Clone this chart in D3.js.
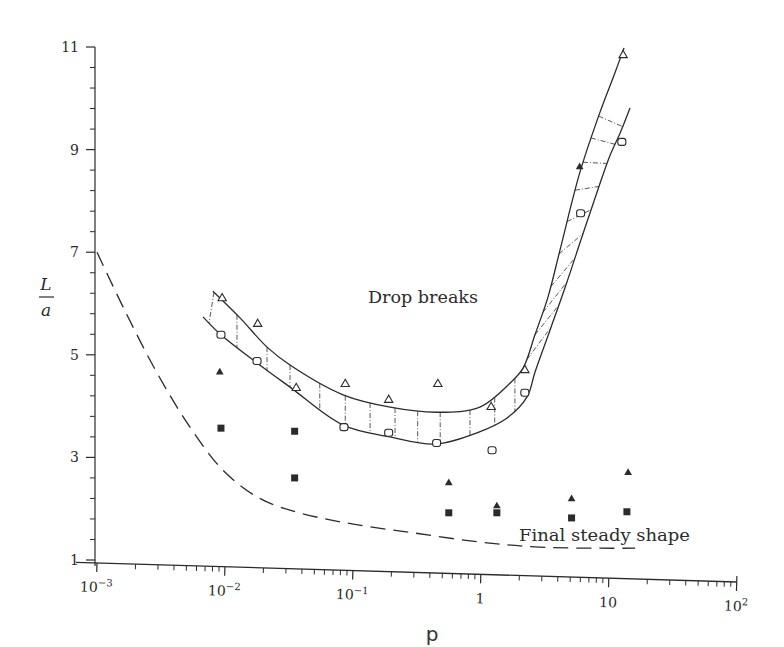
<!DOCTYPE html>
<html><head><meta charset="utf-8">
<script src="https://cdn.jsdelivr.net/npm/d3@7/dist/d3.min.js"></script>
<style>html,body{margin:0;padding:0;background:#fff;}svg{display:block;}</style>
</head><body>
<svg id="c" width="784" height="647"></svg>
<script>
// ---- data: [p, L/a] ----
const openTriangles   = [[0.0095,6.1],[0.018,5.6],[0.036,4.35],[0.087,4.43],[0.19,4.12],[0.46,4.43],[1.2,3.98],[2.2,4.7],[12.9,10.84]];
const filledTriangles = [[0.0091,4.66],[0.56,2.5],[1.33,2.05],[5.1,2.19],[14.1,2.7],[5.9,8.66]];
const openSquares     = [[0.0093,5.39],[0.0178,4.88],[0.085,3.59],[0.19,3.48],[0.45,3.28],[1.22,3.14],[2.2,4.26],[6.0,7.76],[12.6,9.15]];
const filledSquares   = [[0.0093,3.57],[0.035,3.51],[0.035,2.6],[0.56,1.92],[1.33,1.92],[5.1,1.82],[13.8,1.94]];
const upperBound = [[0.00805,6.24],[0.0131,5.72],[0.0213,5.15],[0.0322,4.80],[0.0836,4.22],[0.195,3.98],[0.453,3.88],[0.98,3.98],[1.69,4.45],[2.13,4.74],[2.64,5.39],[3.34,6.13],[4.14,7.04],[5.93,8.56],[8.51,9.73],[10.95,10.45],[13.1,10.98]];
const lowerBound = [[0.00673,5.74],[0.0093,5.39],[0.0178,4.84],[0.0322,4.37],[0.0836,3.63],[0.195,3.40],[0.4375,3.26],[0.931,3.48],[1.60,3.77],[2.29,4.18],[2.64,4.66],[3.46,5.48],[4.61,6.36],[6.15,7.30],[8.06,8.17],[10.2,8.89],[12.2,9.32],[14.6,9.81]];
const finalSteady = [[0.001,7.0],[0.0016,5.93],[0.00294,4.65],[0.00533,3.59],[0.00964,2.75],[0.0178,2.23],[0.0322,1.97],[0.0897,1.72],[0.294,1.53],[0.98,1.35],[2.89,1.25],[16,1.23]];
const hatchUpperP = [0.0082,0.0124,0.0213,0.0322,0.055,0.087,0.136,0.213,0.32,0.48,0.82,1.28,1.84, 2.29,2.64,3.05,3.52,4.07,4.70,5.42,6.26,7.23,8.3];
const hatchLowerP = [0.0075,0.0124,0.0213,0.0322,0.055,0.087,0.136,0.213,0.32,0.48,0.82,1.28,1.84, 3.53,4.07,4.70,5.42,6.27,7.24,8.35,9.64,11.13,12.8];
const yTickValues = [1,3,5,7,9,11];
const xTickValues = [1e-3,1e-2,1e-1,1,10,100];
const xTickLabels = [["10","−3"],["10","−2"],["10","−1"],["1",""],["10",""],["10","2"]];
const yTitleTop = "L", yTitleBottom = "a", xTitle = "p";
const labelBreaks = "Drop breaks", labelSteady = "Final steady shape";

// ---- scales ----
const x = d3.scaleLog().domain([1e-3, 1e2]).range([97, 737]);
const y = d3.scaleLinear().domain([1, 11]).range([560, 47]);
const svg = d3.select("#c");
const ink = "#2b2b2b";
const serif = "'DejaVu Serif', serif";

// ---- y axis ----
const ya = svg.append("g");
ya.append("line").attr("x1",95).attr("x2",95).attr("y1",y(11)).attr("y2",566).attr("stroke",ink).attr("stroke-width",1.2);
const minorY = d3.range(0, 26).map(i => 1 + i*0.4).filter(v => !yTickValues.some(t => Math.abs(t-v) < 1e-6));
ya.selectAll(".ym").data(minorY).join("line")
  .attr("x1",95).attr("x2",90).attr("y1",d=>y(d)).attr("y2",d=>y(d)).attr("stroke",ink).attr("stroke-width",1);
ya.selectAll(".yM").data(yTickValues).join("line")
  .attr("x1",95).attr("x2",86).attr("y1",d=>y(d)).attr("y2",d=>y(d)).attr("stroke",ink).attr("stroke-width",1.2);
ya.selectAll(".yl").data(yTickValues).join("text")
  .attr("x",79).attr("y",d=>y(d)+5).attr("text-anchor","end")
  .attr("font-family",serif).attr("font-size",14).attr("fill",ink).text(d=>d);

// y title as fraction
svg.append("text").attr("x",46).attr("y",290).attr("text-anchor","middle").attr("font-family",serif)
  .attr("font-style","italic").attr("font-size",17).attr("fill",ink).text(yTitleTop);
svg.append("line").attr("x1",39).attr("x2",54).attr("y1",297).attr("y2",297).attr("stroke",ink).attr("stroke-width",1.2);
svg.append("text").attr("x",46).attr("y",316).attr("text-anchor","middle").attr("font-family",serif)
  .attr("font-style","italic").attr("font-size",17).attr("fill",ink).text(yTitleBottom);

// ---- x axis (slightly tilted, like the scan) ----
const y0 = 563;
const xa = svg.append("g").attr("transform", `rotate(1.7, 97, ${y0})`);
xa.append("line").attr("x1",76).attr("x2",737).attr("y1",y0).attr("y2",y0).attr("stroke",ink).attr("stroke-width",1.3);
const minorX = [];
[-3,-2,-1,0,1].forEach(e => { for (let k=2;k<=9;k++) minorX.push(k*Math.pow(10,e)); });
xa.selectAll(".xm").data(minorX).join("line")
  .attr("x1",d=>x(d)).attr("x2",d=>x(d)).attr("y1",y0).attr("y2",y0+5).attr("stroke",ink).attr("stroke-width",1);
xa.selectAll(".xM").data(xTickValues).join("line")
  .attr("x1",d=>x(d)).attr("x2",d=>x(d)).attr("y1",y0).attr("y2",y0+9).attr("stroke",ink).attr("stroke-width",1.2);
xa.append("line").attr("x1",x(100)).attr("x2",x(100)).attr("y1",y0).attr("y2",y0-6).attr("stroke",ink).attr("stroke-width",1.2);
const xl = xa.selectAll(".xl").data(xTickValues).join("text")
  .attr("x",d=>x(d)).attr("y",y0+29).attr("text-anchor","middle")
  .attr("font-family",serif).attr("font-size",14).attr("fill",ink);
xl.each(function(d,i){
  const t = d3.select(this), lab = xTickLabels[i];
  t.append("tspan").text(lab[0]);
  if (lab[1]) t.append("tspan").attr("dy",-6).attr("font-size",10).text(lab[1]);
});
svg.append("text").attr("x",432).attr("y",641).attr("text-anchor","middle")
  .attr("font-family","'DejaVu Sans', sans-serif").attr("font-size",20).attr("fill","#333").text(xTitle);

// ---- curves ----
const line = d3.line().x(d=>x(d[0])).y(d=>y(d[1])).curve(d3.curveCatmullRom.alpha(0.5));
const up = svg.append("path").attr("d",line(upperBound)).attr("fill","none").attr("stroke",ink).attr("stroke-width",1.3);
const lo = svg.append("path").attr("d",line(lowerBound)).attr("fill","none").attr("stroke",ink).attr("stroke-width",1.3);
svg.append("path").attr("d",line(finalSteady)).attr("fill","none").attr("stroke",ink)
  .attr("stroke-width",1.3).attr("stroke-dasharray","15,8");

// hatching between the bounds
function pointAtX(node, px){
  let a=0, b=node.getTotalLength();
  for (let i=0;i<40;i++){ const m=(a+b)/2; if (node.getPointAtLength(m).x < px) a=m; else b=m; }
  return node.getPointAtLength((a+b)/2);
}
const hatch = hatchUpperP.map((p,i) => [pointAtX(up.node(), x(p)), pointAtX(lo.node(), x(hatchLowerP[i]))]);
svg.insert("g", "path").selectAll("line").data(hatch).join("line")
  .attr("x1",d=>d[0].x).attr("y1",d=>d[0].y).attr("x2",d=>d[1].x).attr("y2",d=>d[1].y)
  .attr("stroke","#444").attr("stroke-width",0.9).attr("stroke-dasharray","5,2,1,2");

// ---- markers ----
const tri = d3.symbol().type(d3.symbolTriangle);
svg.selectAll(".ot").data(openTriangles).join("path")
  .attr("d", tri.size(30)()).attr("transform",d=>`translate(${x(d[0])},${y(d[1])})`)
  .attr("fill","#fff").attr("stroke",ink).attr("stroke-width",1.1);
svg.selectAll(".ft").data(filledTriangles).join("path")
  .attr("d", tri.size(26)()).attr("transform",d=>`translate(${x(d[0])},${y(d[1])})`)
  .attr("fill",ink);
svg.selectAll(".os").data(openSquares).join("rect")
  .attr("x",d=>x(d[0])-4).attr("y",d=>y(d[1])-3.5).attr("width",8).attr("height",7).attr("rx",2.5)
  .attr("fill","#fff").attr("stroke",ink).attr("stroke-width",1.1);
svg.selectAll(".fs").data(filledSquares).join("rect")
  .attr("x",d=>x(d[0])-3.5).attr("y",d=>y(d[1])-3.5).attr("width",7).attr("height",7)
  .attr("fill",ink);

// ---- labels ----
svg.append("text").attr("x",368).attr("y",303).attr("font-family",serif).attr("font-size",16)
  .attr("fill",ink).attr("textLength",110).attr("lengthAdjust","spacingAndGlyphs").text(labelBreaks);
svg.append("text").attr("x",519).attr("y",541).attr("font-family",serif).attr("font-size",16)
  .attr("fill",ink).attr("textLength",171).attr("lengthAdjust","spacingAndGlyphs").text(labelSteady);
</script>
</body></html>
